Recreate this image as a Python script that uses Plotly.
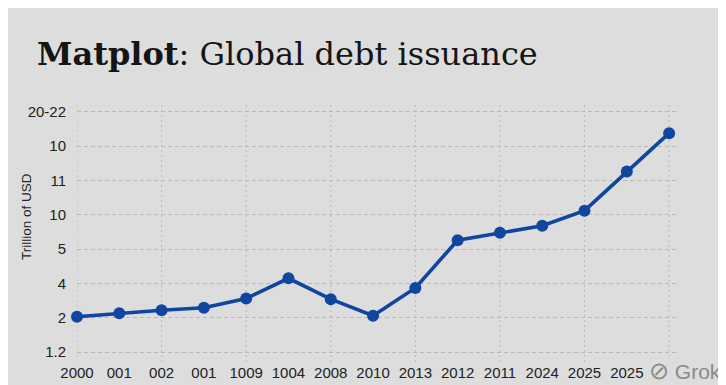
import plotly.graph_objects as go

# ---- data ----
x_labels = ["2000", "001", "002", "001", "1009", "1004", "2008", "2010",
            "2013", "2012", "2011", "2024", "2025", "2025", ""]
y_tick_labels = ["1.2", "2", "4", "5", "10", "11", "10", "20-22"]
debt_values = [1.03, 1.13, 1.22, 1.29, 1.56, 2.15, 1.54, 1.06,
               1.87, 3.26, 3.48, 3.68, 4.12, 5.26, 6.38]

x_pos = list(range(len(x_labels)))
y_pos = list(range(len(y_tick_labels)))

BG = "#dddddd"
LINE = "#0e46a0"
GRID = "#b9b9b9"

# plot area (figure pixels)
L, R, T, B = 69, 670, 97, 354
PW, PH = R - L, B - T

fig = go.Figure()
fig.add_trace(go.Scatter(
    x=x_pos, y=debt_values, mode="lines+markers",
    line=dict(color=LINE, width=3.6),
    marker=dict(color=LINE, size=12),
    cliponaxis=False, showlegend=False, hoverinfo="skip",
))

# vertical dotted gridlines on every second category
for i in x_pos[::2]:
    fig.add_shape(type="line", xref="x", yref="paper", x0=i, x1=i, y0=0, y1=1,
                  line=dict(color=GRID, width=1, dash="2px,3px"), layer="below")

fig.update_layout(
    width=726, height=385,
    margin=dict(l=L, r=726 - R, t=T, b=385 - B, autoexpand=False),
    paper_bgcolor=BG,
    plot_bgcolor=BG,
    title=dict(
        text="<b>Matplot</b>: Global debt issuance",
        x=29 / 726, xanchor="left", xref="container",
        y=1 - 46 / 385, yanchor="middle", yref="container",
        font=dict(family="DejaVu Serif", size=32, color="#151515"),
    ),
    xaxis=dict(
        range=[0, 14.21], tickmode="array", tickvals=x_pos, ticktext=x_labels,
        showgrid=False, zeroline=False, showline=False, ticks="", automargin=False,
        tickfont=dict(family="Liberation Sans", size=15, color="#222222"),
    ),
    yaxis=dict(
        range=[-0.29, 7.2], tickmode="array", tickvals=y_pos, ticktext=y_tick_labels,
        showgrid=True, gridcolor=GRID, gridwidth=1, griddash="4px,3px",
        zeroline=False, showline=False, ticks="", ticklabelstandoff=10, automargin=False,
        tickfont=dict(family="Liberation Sans", size=15, color="#222222"),
    ),
    annotations=[
        dict(text="Trillion of USD", textangle=-90, xref="paper", yref="paper",
             x=(18 - L) / PW, y=(B - 209) / PH, xanchor="center", yanchor="middle",
             showarrow=False, font=dict(family="Liberation Sans", size=13.5, color="#222222")),
        dict(text="<span style='font-size:24px'>⊘</span> Grok", xref="paper", yref="paper",
             x=(640 - L) / PW, y=(B - 362) / PH, xanchor="left", yanchor="middle",
             showarrow=False, bgcolor=BG, borderpad=0,
             font=dict(family="Liberation Sans", size=21, color="#8a8a8a")),
    ],
)

fig.write_html("out.html")
